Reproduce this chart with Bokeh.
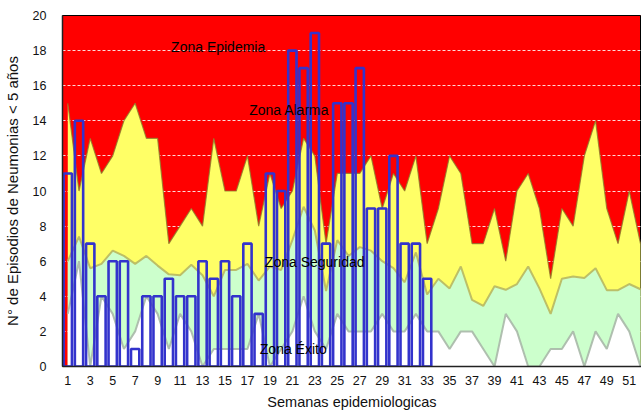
from bokeh.plotting import figure
from bokeh.models import FixedTicker, Label
from bokeh.embed import file_html
from bokeh.resources import INLINE

weeks = [1, 2, 3, 4, 5, 6, 7, 8, 9, 10, 11, 12, 13, 14, 15, 16, 17, 18, 19, 20,
         21, 22, 23, 24, 25, 26, 27, 28, 29, 30, 31, 32, 33, 34, 35, 36, 37, 38, 39, 40,
         41, 42, 43, 44, 45, 46, 47, 48, 49, 50, 51, 52]

# Upper limit of "Zona Alarma" (yellow)
alarma = [15, 10, 13, 11, 12, 14, 15, 13, 13, 7, 8, 9, 8, 13, 10, 10, 12, 8, 11, 9,
          10, 13, 12, 7, 11, 11, 11, 12, 9, 11, 10, 12, 7, 9, 12, 11, 7, 7, 9, 6,
          10, 11, 9, 5, 9, 8, 12, 14, 9, 7, 10, 7]

# Upper limit of "Zona Seguridad" (green)
seguridad = [6.0, 7.4, 5.6, 5.85, 6.6, 6.3, 5.85, 6.3, 5.75, 5.25, 5.2, 5.8, 5.2, 4.0, 5.5, 5.5,
             5.85, 4.9, 5.7, 5.5, 7.2, 9.1, 7.75, 4.3, 7.2, 6.3, 6.8, 6.6, 6.0, 5.6, 4.8, 6.5,
             4.1, 5.0, 4.45, 5.7, 3.8, 3.45, 4.57, 4.37, 4.7, 5.7, 4.45, 3.0, 5.0, 5.13, 5.04,
             5.6, 4.35, 4.35, 4.7, 4.4]

# Upper limit of "Zona Exito" (white)
exito = [3, 6, 0, 4, 3, 1, 2, 4, 3, 1, 3, 2, 0, 1, 1, 1, 1, 3, 0, 1,
         2, 4, 2, 1, 3, 2, 2, 2, 3, 2, 2, 3, 2, 2, 1, 2, 2, 1, 0, 3,
         2, 0, 0, 1, 1, 2, 0, 2, 1, 3, 2, 0]

# Observed episodes (weeks 1-33)
semanas_casos = [1, 2, 3, 4, 5, 6, 7, 8, 9, 10, 11, 12, 13, 14, 15, 16, 17, 18, 19, 20,
                 21, 22, 23, 24, 25, 26, 27, 28, 29, 30, 31, 32, 33]
casos = [11, 14, 7, 4, 6, 6, 1, 4, 4, 5, 4, 4, 6, 5, 6, 4, 7, 3, 11, 10,
         18, 17, 19, 7, 15, 15, 17, 9, 9, 12, 7, 7, 5]

x_ticks = [1, 3, 5, 7, 9, 11, 13, 15, 17, 19, 21, 23, 25, 27, 29, 31, 33, 35, 37, 39,
           41, 43, 45, 47, 49, 51]
y_ticks = [0, 2, 4, 6, 8, 10, 12, 14, 16, 18, 20]

FONT = "Liberation Sans"

p = figure(width=641, height=414, x_range=(0.53, 52.09), y_range=(0, 20),
           output_backend="svg", toolbar_location=None,
           min_border_left=62, min_border_right=0, min_border_top=15, min_border_bottom=48)
p.background_fill_color = "#FF0000"
p.border_fill_color = "white"
p.outline_line_color = "black"
p.outline_line_width = 1

p.xgrid.grid_line_color = None
p.ygrid.ticker = FixedTicker(ticks=y_ticks)
p.ygrid.grid_line_color = "white"
p.ygrid.grid_line_alpha = 0.85
p.ygrid.grid_line_dash = "3 2"
p.ygrid.grid_line_width = 1

# zones
p.varea(x=weeks, y1=0, y2=alarma, fill_color="#FFFF66")
p.line(x=weeks, y=alarma, line_color="#8C7A2A", line_width=1.2, line_alpha=0.8)
p.varea(x=weeks, y1=0, y2=seguridad, fill_color="#CCFFCC")
p.line(x=weeks, y=seguridad, line_color="#B8B860", line_width=2, line_alpha=0.9)
p.varea(x=weeks, y1=0, y2=exito, fill_color="#FFFFFF")
p.line(x=weeks, y=exito, line_color="#A8B8A8", line_width=2, line_alpha=0.9)

# observed bars
p.vbar(x=semanas_casos, top=casos, bottom=0, width=0.74, fill_alpha=0,
       line_color="#3333CC", line_width=2.6)

for txt, xx, yy in [("Zona Epidemia", 10.2, 18.2), ("Zona Alarma", 17.15, 14.6),
                    ("Zona Seguridad", 18.55, 5.98), ("Zona Éxito", 18.1, 0.97)]:
    p.add_layout(Label(x=xx, y=yy, text=txt, text_font=FONT, text_font_size="14px",
                       text_baseline="middle", text_align="left", text_color="black"))

p.xaxis.ticker = FixedTicker(ticks=x_ticks)
p.yaxis.ticker = FixedTicker(ticks=y_ticks)
for ax in (p.xaxis, p.yaxis):
    ax.axis_line_color = "#222222"
    ax.axis_line_width = 1.5
    ax.major_tick_line_color = None
    ax.minor_tick_line_color = None
    ax.major_tick_out = 0
    ax.major_tick_in = 0
    ax.minor_tick_out = 0
    ax.minor_tick_in = 0
    ax.major_label_text_font = FONT
    ax.major_label_text_font_size = "12.5px"
    ax.major_label_text_color = "#111111"
    ax.axis_label_text_font = FONT
    ax.axis_label_text_font_style = "normal"
    ax.axis_label_text_color = "#111111"

p.xaxis.axis_label = "Semanas epidemiologicas"
p.yaxis.axis_label = "N° de Episodios de Neumonias < 5 años"
p.xaxis.axis_label_text_font_size = "14.5px"
p.yaxis.axis_label_text_font_size = "15px"
p.xaxis.major_label_standoff = 9
p.xaxis.axis_label_standoff = 6
p.yaxis.major_label_standoff = 16
p.yaxis.axis_label_standoff = 9

open("out.html", "w").write(file_html(p, INLINE))
